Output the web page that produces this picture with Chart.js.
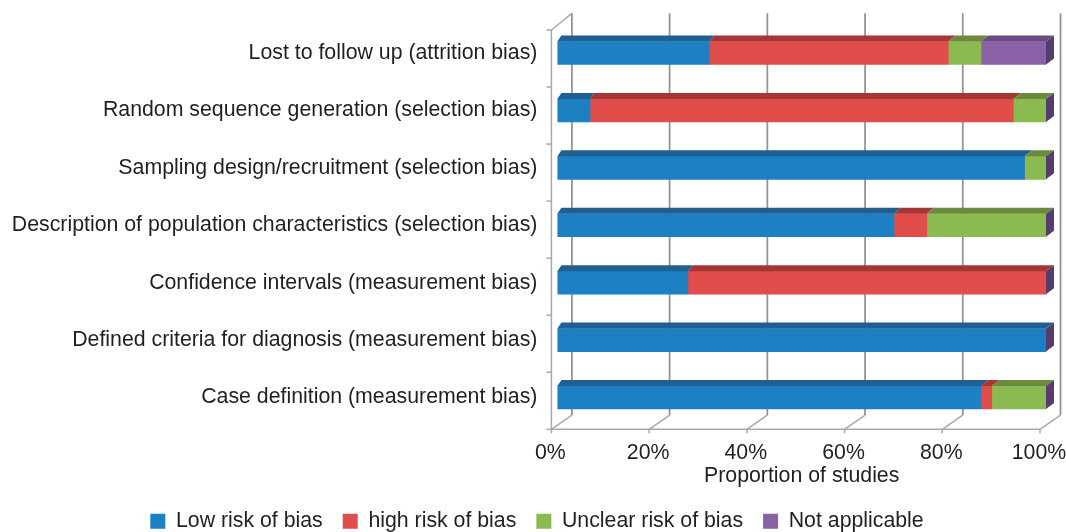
<!DOCTYPE html>
<html>
<head>
<meta charset="utf-8">
<script src="https://cdn.jsdelivr.net/npm/chart.js@4/dist/chart.umd.min.js"></script>
<style>
  html, body { margin: 0; padding: 0; background: #ffffff; }
  canvas { display: block; }
</style>
</head>
<body>
<canvas id="chart" width="1066" height="532"></canvas>
<script>
// Risk-of-bias items, top to bottom
const categories = [
  'Lost to follow up (attrition bias)',
  'Random sequence generation (selection bias)',
  'Sampling design/recruitment (selection bias)',
  'Description of population characteristics (selection bias)',
  'Confidence intervals (measurement bias)',
  'Defined criteria for diagnosis (measurement bias)',
  'Case definition (measurement bias)'
];

const seriesNames = ['Low risk of bias', 'high risk of bias', 'Unclear risk of bias', 'Not applicable'];

// Share of studies (%) for each item
const lowRisk       = [31.1,  6.7, 95.6, 68.9, 26.7, 100, 86.7];
const highRisk      = [48.9, 86.6,  0.0,  6.7, 73.3,   0,  2.2];
const unclearRisk   = [ 6.7,  6.7,  4.4, 24.4,  0.0,   0, 11.1];
const notApplicable = [13.3,  0.0,  0.0,  0.0,  0.0,   0,  0.0];

const xTicks = [0, 20, 40, 60, 80, 100];
const axisTitle = 'Proportion of studies';

// Face colours of the extruded bars: front, top, end
const frontColors = ['#1d80c3', '#e04d4a', '#8bbb50', '#8a63a6'];
const topColors   = ['#1f5f91', '#a63536', '#6c8a3e', '#6a4a84'];
const sideColors  = ['#174d77', '#8a2c2c', '#58732f', '#573d6e'];

const TEXT = '#231f20';
const FONT = "'Liberation Sans', Arial, Helvetica, sans-serif";
const FONT_SIZE = 21.3;

// Offsets of the wall planes relative to the bar front faces
const WALL_FRONT = { dx: -6, dyTop: 5.7, dyBottom: 3.1 };
const WALL_BACK  = { dx: 14.5, dy: -11 };
const BAR_DEPTH_Y = 6;

function seg(ctx, x1, y1, x2, y2) {
  ctx.beginPath();
  ctx.moveTo(x1, y1);
  ctx.lineTo(x2, y2);
  ctx.stroke();
}

// Back wall gridlines, floor and left wall of the pseudo-3D frame
const wallsPlugin = {
  id: 'walls',
  beforeDatasetsDraw(chart) {
    const { ctx, chartArea: a } = chart;
    const xs = chart.scales.x;
    const yTopF = a.top + WALL_FRONT.dyTop;
    const yBotF = a.bottom + WALL_FRONT.dyBottom;
    const yTopB = a.top + WALL_BACK.dy;
    const yBotB = a.bottom + WALL_BACK.dy;
    const x0 = xs.getPixelForValue(xTicks[0]);
    const xN = xs.getPixelForValue(xTicks[xTicks.length - 1]);
    ctx.save();
    ctx.lineCap = 'butt';

    // gridlines on the back wall
    ctx.strokeStyle = '#959595';
    ctx.lineWidth = 1.8;
    xTicks.forEach(v => {
      const px = xs.getPixelForValue(v) + WALL_BACK.dx;
      seg(ctx, px, yTopB, px, yBotB);
    });

    ctx.strokeStyle = '#a9a9a9';
    ctx.lineWidth = 1.5;
    // floor: front edge, depth lines and small ticks
    seg(ctx, x0 + WALL_FRONT.dx, yBotF, xN + WALL_FRONT.dx, yBotF);
    xTicks.forEach(v => {
      const px = xs.getPixelForValue(v);
      seg(ctx, px + WALL_FRONT.dx, yBotF, px + WALL_BACK.dx, yBotB);
      seg(ctx, px + WALL_FRONT.dx, yBotF, px + WALL_FRONT.dx, yBotF + 4);
    });

    // left wall: front edge, top edge and category ticks
    const lx = x0 + WALL_FRONT.dx;
    seg(ctx, lx, yTopF, lx, yBotF);
    seg(ctx, lx, yTopF, x0 + WALL_BACK.dx, yTopB);
    const n = categories.length;
    for (let k = 0; k <= n; k++) {
      const yy = yTopF + k * (yBotF - yTopF) / n;
      seg(ctx, lx - 5, yy, lx, yy);
    }
    ctx.restore();
  }
};

// Top faces and end caps that give the bars their depth
const depthPlugin = {
  id: 'depth',
  afterDatasetsDraw(chart) {
    const { ctx } = chart;
    const xs = chart.scales.x;
    const x0 = xs.getPixelForValue(0);
    const x1 = xs.getPixelForValue(100);
    const ddx = px => 4 + 4 * (px - x0) / (x1 - x0);
    const dy = BAR_DEPTH_Y;
    ctx.save();
    chart.data.datasets.forEach((ds, i) => {
      const meta = chart.getDatasetMeta(i);
      meta.data.forEach(bar => {
        const p = bar.getProps(['x', 'base', 'y', 'height'], true);
        const left = Math.min(p.x, p.base);
        const right = Math.max(p.x, p.base);
        if (right - left < 0.5) return;
        const yt = p.y - p.height / 2;
        ctx.fillStyle = topColors[i];
        ctx.beginPath();
        ctx.moveTo(left, yt);
        ctx.lineTo(left + ddx(left), yt - dy);
        ctx.lineTo(right + ddx(right), yt - dy);
        ctx.lineTo(right, yt);
        ctx.closePath();
        ctx.fill();
      });
    });
    const lastIndex = chart.data.datasets.length - 1;
    chart.getDatasetMeta(lastIndex).data.forEach(bar => {
      const p = bar.getProps(['x', 'y', 'height'], true);
      const yt = p.y - p.height / 2;
      const yb = p.y + p.height / 2;
      const d = ddx(p.x);
      ctx.fillStyle = sideColors[lastIndex];
      ctx.beginPath();
      ctx.moveTo(p.x, yt);
      ctx.lineTo(p.x + d, yt - dy);
      ctx.lineTo(p.x + d, yb - dy);
      ctx.lineTo(p.x, yb);
      ctx.closePath();
      ctx.fill();
    });
    ctx.restore();
  }
};

// Moves the legend row to its final spot below the axis title
const legendPlacement = {
  id: 'legendPlacement',
  afterLayout(chart) {
    const lg = chart.legend;
    if (!lg) return;
    lg.left += 14; lg.right += 14;
    lg.top -= 10;
  }
};

const seriesValues = [lowRisk, highRisk, unclearRisk, notApplicable];

new Chart(document.getElementById('chart'), {
  type: 'bar',
  data: {
    labels: categories,
    datasets: seriesNames.map((name, i) => ({
      label: name,
      data: seriesValues[i],
      backgroundColor: frontColors[i],
      borderWidth: 0,
      barThickness: 23
    }))
  },
  options: {
    indexAxis: 'y',
    responsive: false,
    animation: false,
    events: [],
    layout: { padding: { top: 24.3, left: 0, right: 20, bottom: 0 } },
    scales: {
      x: {
        stacked: true,
        min: 0,
        max: 100,
        afterBuildTicks: s => { s.ticks = xTicks.map(v => ({ value: v })); },
        afterFit: s => { s.height = 74.3; s.paddingLeft = 0; s.paddingRight = 0; },
        grid: { display: false, drawTicks: false },
        border: { display: false },
        ticks: {
          callback: v => v + '%',
          color: TEXT,
          font: { family: FONT, size: FONT_SIZE },
          padding: 14,
          labelOffset: -7,
          maxRotation: 0,
          autoSkip: false
        },
        title: {
          display: true,
          text: axisTitle,
          color: TEXT,
          font: { family: FONT, size: FONT_SIZE },
          padding: { top: 4, bottom: 12 }
        }
      },
      y: {
        stacked: true,
        afterFit: s => { s.width = 557.4; s.paddingTop = 0; s.paddingBottom = 0; },
        grid: { display: false, drawTicks: false },
        border: { display: false },
        ticks: {
          color: TEXT,
          font: { family: FONT, size: FONT_SIZE },
          padding: 20,
          autoSkip: false
        }
      }
    },
    plugins: {
      legend: {
        position: 'bottom',
        maxHeight: 31.5,
        labels: {
          color: TEXT,
          font: { family: FONT, size: FONT_SIZE },
          boxWidth: 15,
          boxHeight: 15,
          padding: 20
        }
      },
      tooltip: { enabled: false }
    }
  },
  plugins: [wallsPlugin, depthPlugin, legendPlacement]
});
</script>
</body>
</html>
